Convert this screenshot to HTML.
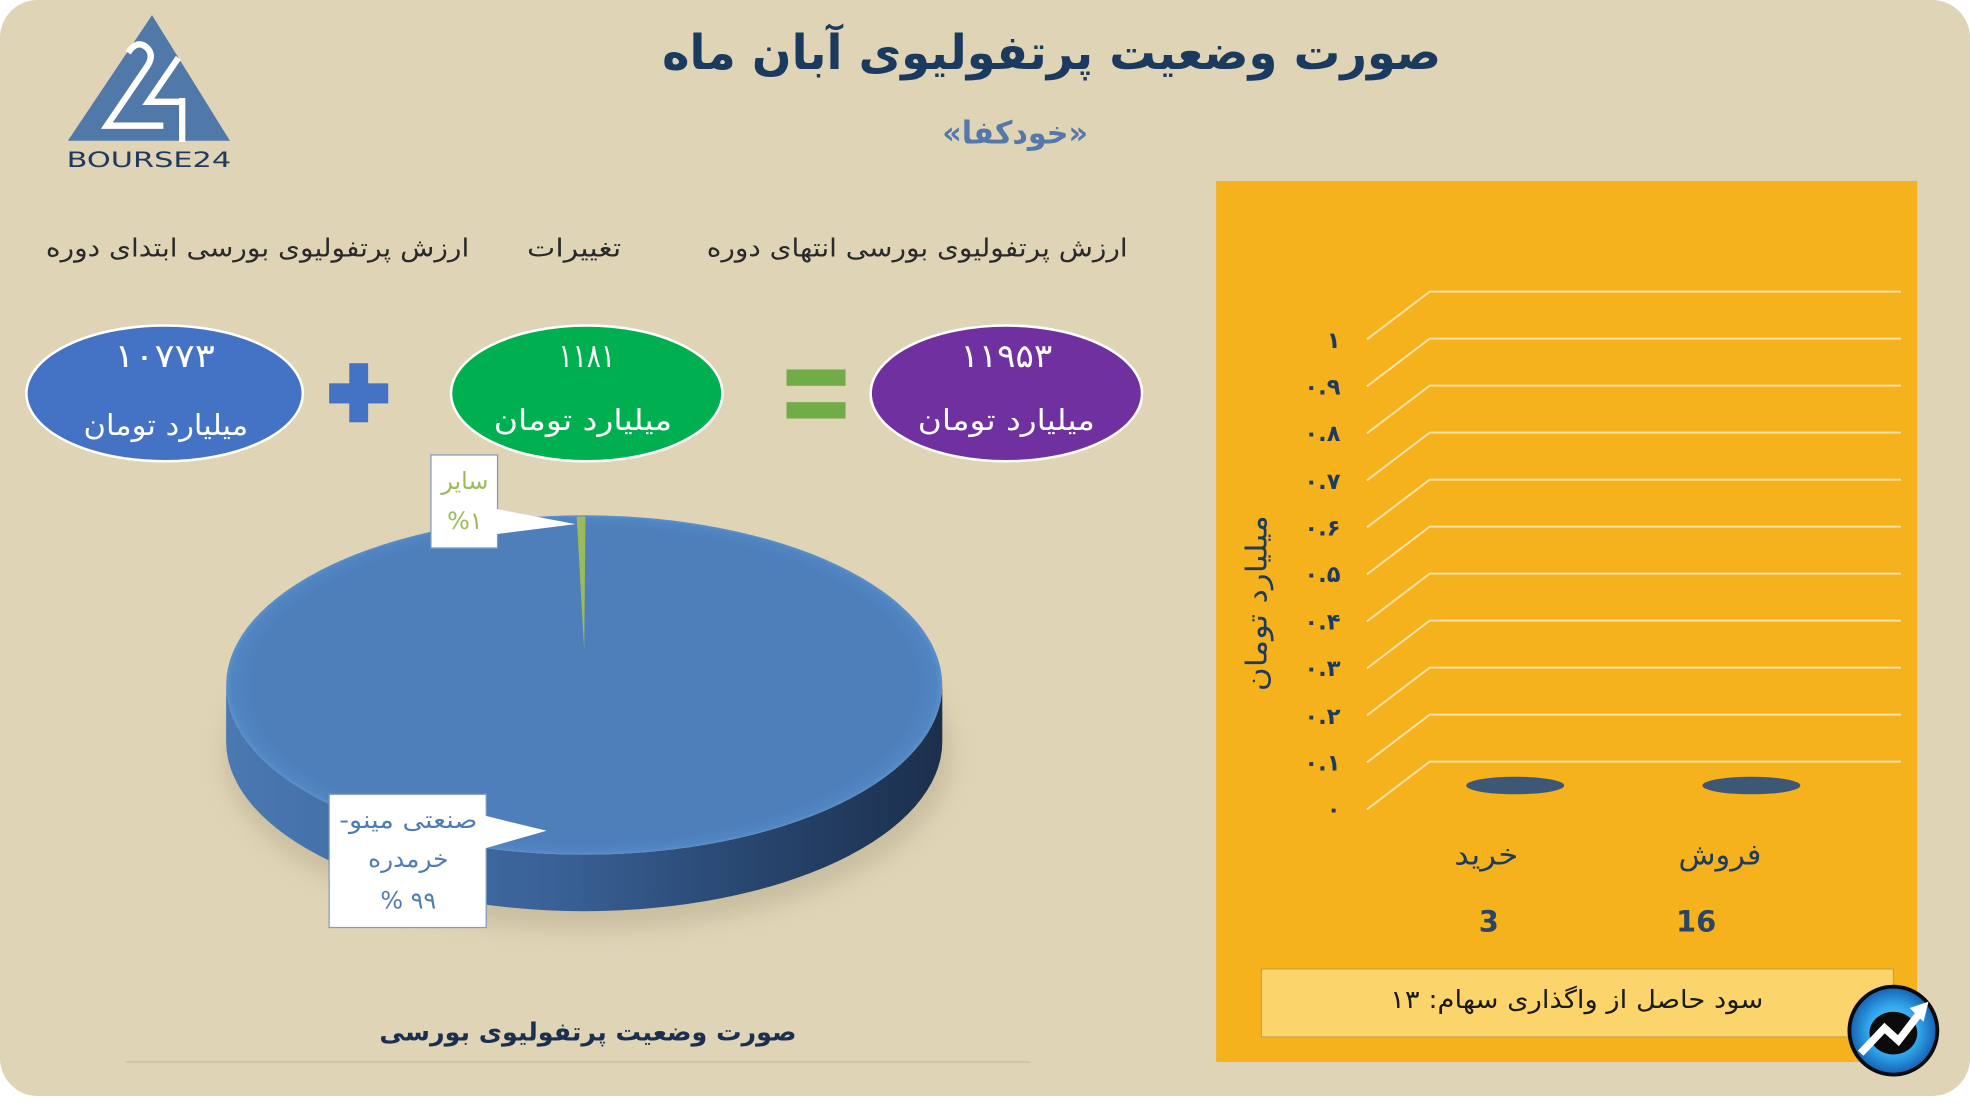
<!DOCTYPE html>
<html><head><meta charset="utf-8">
<style>
html,body{margin:0;padding:0;background:#ffffff;}
svg{display:block;}
text{font-family:"DejaVu Sans","Liberation Sans",sans-serif;}
</style></head>
<body>
<svg width="1970" height="1106" viewBox="0 0 1568 880" preserveAspectRatio="none" xmlns="http://www.w3.org/2000/svg">
<defs>
  <linearGradient id="side" x1="0" y1="0" x2="1" y2="0">
    <stop offset="0" stop-color="#4a78b2"/>
    <stop offset="0.45" stop-color="#3a6298"/>
    <stop offset="0.75" stop-color="#27446c"/>
    <stop offset="1" stop-color="#1c2f4c"/>
  </linearGradient>
  <radialGradient id="top" cx="0.5" cy="0.5" r="0.5">
    <stop offset="0.93" stop-color="#4e7fbb"/>
    <stop offset="0.985" stop-color="#5186c2"/>
    <stop offset="1" stop-color="#5a90cc"/>
  </radialGradient>
  <radialGradient id="ball" cx="0.5" cy="0.5" r="0.5">
    <stop offset="0" stop-color="#7fd6ff"/>
    <stop offset="0.6" stop-color="#2fa3ea"/>
    <stop offset="1" stop-color="#155fb0"/>
  </radialGradient>
  <filter id="blur" x="-20%" y="-20%" width="140%" height="140%"><feGaussianBlur stdDeviation="8"/></filter>
</defs>

<!-- page background -->
<rect x="0" y="0" width="1568" height="872" rx="30" ry="30" fill="#dfd4b6"/>

<!-- logo -->
<polygon points="121,12 54,112 183,112" fill="#5078a8"/>
<path d="M102,42 Q109,31 117,38 Q123,44 117,53 L85,100 L130,100" fill="none" stroke="#ffffff" stroke-width="5" stroke-linejoin="miter"/>
<path d="M142,46 L118,81 L145,81 M145,78 L145,113" fill="none" stroke="#ffffff" stroke-width="5"/>
<text x="53" y="133" font-size="17" fill="#1f3a5f" textLength="131" lengthAdjust="spacingAndGlyphs">BOURSE24</text>

<!-- titles -->
<text x="837" y="55" font-size="38" font-weight="bold" fill="#1b3a5f" text-anchor="middle" direction="rtl" textLength="620" lengthAdjust="spacingAndGlyphs">صورت وضعیت پرتفولیوی آبان ماه</text>
<text x="808" y="114" font-size="25" font-weight="bold" fill="#5479a8" text-anchor="middle" direction="rtl" textLength="116" lengthAdjust="spacingAndGlyphs">«خودکفا»</text>

<!-- headers -->
<text x="730" y="204" font-size="20" fill="#2a2a2a" text-anchor="middle" direction="rtl" textLength="335" lengthAdjust="spacingAndGlyphs">ارزش پرتفولیوی بورسی انتهای دوره</text>
<text x="457" y="204" font-size="20" fill="#2a2a2a" text-anchor="middle" direction="rtl" textLength="75" lengthAdjust="spacingAndGlyphs">تغییرات</text>
<text x="205" y="204" font-size="20" fill="#2a2a2a" text-anchor="middle" direction="rtl" textLength="337" lengthAdjust="spacingAndGlyphs">ارزش پرتفولیوی بورسی ابتدای دوره</text>

<!-- ellipses -->
<ellipse cx="131" cy="313" rx="110" ry="54" fill="#4472c4" stroke="#ffffff" stroke-width="2"/>
<ellipse cx="467" cy="313" rx="108" ry="54" fill="#00b050" stroke="#ffffff" stroke-width="2"/>
<ellipse cx="801" cy="313" rx="108" ry="54" fill="#7030a0" stroke="#ffffff" stroke-width="2"/>

<text x="131" y="292" font-size="26" fill="#ffffff" text-anchor="middle" textLength="80" lengthAdjust="spacingAndGlyphs">۱۰۷۷۳</text>
<text x="467" y="292" font-size="26" fill="#ffffff" text-anchor="middle" textLength="45" lengthAdjust="spacingAndGlyphs">۱۱۸۱</text>
<text x="801" y="292" font-size="26" fill="#ffffff" text-anchor="middle" textLength="73" lengthAdjust="spacingAndGlyphs">۱۱۹۵۳</text>

<text x="132" y="346" font-size="23" fill="#ffffff" text-anchor="middle" direction="rtl" textLength="131" lengthAdjust="spacingAndGlyphs">میلیارد تومان</text>
<text x="464" y="342" font-size="23" fill="#ffffff" text-anchor="middle" direction="rtl" textLength="142" lengthAdjust="spacingAndGlyphs">میلیارد تومان</text>
<text x="801" y="342" font-size="23" fill="#ffffff" text-anchor="middle" direction="rtl" textLength="141" lengthAdjust="spacingAndGlyphs">میلیارد تومان</text>

<!-- plus -->
<rect x="278" y="289" width="15" height="47" fill="#4472c4"/>
<rect x="262" y="305" width="47" height="16" fill="#4472c4"/>
<!-- equals -->
<rect x="626" y="294" width="47" height="13" fill="#70ad47"/>
<rect x="626" y="320" width="47" height="13" fill="#70ad47"/>

<!-- pie shadow -->
<ellipse cx="468" cy="600" rx="290" ry="140" fill="#b8ad90" opacity="0.55" filter="url(#blur)"/>
<!-- pie side -->
<path d="M180,545 A285,135 0 0 0 750,545 L750,590 A285,135 0 0 1 180,590 Z" fill="url(#side)"/>
<!-- pie top -->
<ellipse cx="465" cy="545" rx="285" ry="135" fill="url(#top)"/>
<polygon points="459,411 466,411 465,518" fill="#9bbb59"/>

<!-- labels -->
<rect x="343" y="362" width="53" height="74" fill="#ffffff" stroke="#7e9bc2" stroke-width="1"/>
<polygon points="395,405 458,417 395,425" fill="#ffffff"/>
<text x="370" y="389" font-size="19" fill="#9bbb59" text-anchor="middle" direction="rtl">سایر</text>
<text x="370" y="421" font-size="19" fill="#9bbb59" text-anchor="middle">%۱</text>

<rect x="262" y="632" width="125" height="106" fill="#ffffff" stroke="#7e9bc2" stroke-width="1"/>
<polygon points="386,649 435,661 386,675" fill="#ffffff"/>
<text x="325" y="659" font-size="19" fill="#4f7cb5" text-anchor="middle" direction="rtl" textLength="110" lengthAdjust="spacingAndGlyphs">صنعتی مینو-</text>
<text x="325" y="690" font-size="19" fill="#4f7cb5" text-anchor="middle" direction="rtl" textLength="64" lengthAdjust="spacingAndGlyphs">خرمدره</text>
<text x="325" y="723" font-size="19" fill="#4f7cb5" text-anchor="middle">% ۹۹</text>

<!-- caption -->
<text x="468" y="828" font-size="20" font-weight="bold" fill="#1b3050" text-anchor="middle" direction="rtl" textLength="332" lengthAdjust="spacingAndGlyphs">صورت وضعیت پرتفولیوی بورسی</text>
<line x1="100" y1="845" x2="820" y2="845" stroke="#d2c7a8" stroke-width="2"/>

<!-- right panel -->
<rect x="968" y="144" width="558" height="701" fill="#f5b21d"/>
<g stroke="#fbe2a8" stroke-width="1.6" fill="none">
  <polyline points="1088,270 1138,232 1513,232"/>
  <polyline points="1088,307.4 1138,269.4 1513,269.4"/>
  <polyline points="1088,344.8 1138,306.8 1513,306.8"/>
  <polyline points="1088,382.2 1138,344.2 1513,344.2"/>
  <polyline points="1088,419.6 1138,381.6 1513,381.6"/>
  <polyline points="1088,457 1138,419 1513,419"/>
  <polyline points="1088,494.4 1138,456.4 1513,456.4"/>
  <polyline points="1088,531.8 1138,493.8 1513,493.8"/>
  <polyline points="1088,569.2 1138,531.2 1513,531.2"/>
  <polyline points="1088,606.6 1138,568.6 1513,568.6"/>
  <polyline points="1088,644 1138,606 1513,606"/>
</g>
<g font-size="18" font-weight="bold" fill="#1f3a5f" text-anchor="end">
  <text x="1067" y="277">۱</text>
  <text x="1067" y="314">۰.۹</text>
  <text x="1067" y="351">۰.۸</text>
  <text x="1067" y="389">۰.۷</text>
  <text x="1067" y="426">۰.۶</text>
  <text x="1067" y="463">۰.۵</text>
  <text x="1067" y="501">۰.۴</text>
  <text x="1067" y="538">۰.۳</text>
  <text x="1067" y="576">۰.۲</text>
  <text x="1067" y="613">۰.۱</text>
  <text x="1067" y="650">۰</text>
</g>
<text transform="translate(1008,480) rotate(-90)" x="0" y="0" font-size="23" fill="#1f3a5f" text-anchor="middle" direction="rtl" textLength="140" lengthAdjust="spacingAndGlyphs">میلیارد تومان</text>

<ellipse cx="1206" cy="625" rx="39" ry="7" fill="#3d5877"/>
<ellipse cx="1394" cy="625" rx="39" ry="7" fill="#3d5877"/>

<text x="1183" y="688" font-size="23" fill="#1f3a5f" text-anchor="middle" direction="rtl" textLength="51" lengthAdjust="spacingAndGlyphs">خرید</text>
<text x="1369" y="688" font-size="23" fill="#1f3a5f" text-anchor="middle" direction="rtl" textLength="66" lengthAdjust="spacingAndGlyphs">فروش</text>
<text x="1185" y="741" font-size="23" font-weight="bold" fill="#2c4565" text-anchor="middle">3</text>
<text x="1350" y="741" font-size="23" font-weight="bold" fill="#2c4565" text-anchor="middle">16</text>

<rect x="1004" y="771" width="503" height="54" fill="#fbd46c" stroke="#b8a148" stroke-width="0.8"/>
<text x="1255" y="802" font-size="20" fill="#1a1a1a" text-anchor="middle" direction="rtl" textLength="297" lengthAdjust="spacingAndGlyphs">سود حاصل از واگذاری سهام: ۱۳</text>

<!-- bottom-right icon -->
<circle cx="1507" cy="820" r="35" fill="url(#ball)" stroke="#0a0a0a" stroke-width="3"/>
<ellipse cx="1507" cy="822" rx="19" ry="17" fill="#0b0b0b"/>
<path d="M1481,838 L1500,818 L1511,828 L1528,806" fill="none" stroke="#ffffff" stroke-width="6" stroke-linejoin="miter"/>
<polygon points="1520,802 1535,797 1531,813" fill="#ffffff"/>
</svg>
</body></html>
